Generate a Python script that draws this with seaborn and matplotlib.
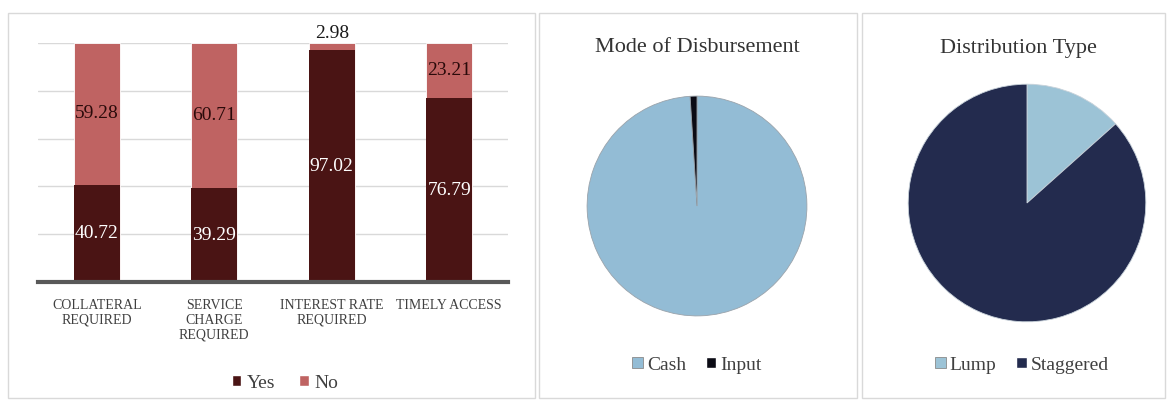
import matplotlib
matplotlib.use("Agg")
import matplotlib.pyplot as plt
import seaborn as sns
import pandas as pd
import numpy as np
from matplotlib.patches import Rectangle, Patch

# ---------------- data ----------------
categories = ["COLLATERAL\nREQUIRED", "SERVICE\nCHARGE\nREQUIRED",
              "INTEREST RATE\nREQUIRED", "TIMELY ACCESS"]
yes_vals = [40.72, 39.29, 97.02, 76.79]
no_vals = [59.28, 60.71, 2.98, 23.21]
yes_labels = ["40.72", "39.29", "97.02", "76.79"]
no_labels = ["59.28", "60.71", "2.98", "23.21"]

disb_labels = ["Cash", "Input"]
disb_vals = [99.0, 1.0]

dist_labels = ["Lump", "Staggered"]
dist_vals = [13.4, 86.6]

# ---------------- style ----------------
sns.set_theme(style="white")
plt.rcParams["font.family"] = ["Liberation Serif", "DejaVu Serif"]

W, H = 1168, 401
fig = plt.figure(figsize=(W / 100, H / 100), dpi=100)
fig.patch.set_facecolor("white")

def px_axes(left, top, right, bottom):
    return fig.add_axes([left / W, 1 - bottom / H, (right - left) / W, (bottom - top) / H])

# panel borders
for (l, t, r, b) in [(8, 13, 535, 398), (539, 13, 857, 398), (862, 13, 1165, 398)]:
    fig.add_artist(Rectangle((l / W, 1 - b / H), (r - l) / W, (b - t) / H,
                             transform=fig.transFigure, fill=False,
                             edgecolor="#d9d9d9", linewidth=1.0))

YES_C = "#4a1414"
NO_C = "#bf6362"
TXT = "#404040"

# ---------------- stacked bar ----------------
ax = px_axes(38, 43, 508, 282)
df = pd.DataFrame({"cat": categories, "yes": yes_vals, "no": no_vals})
df["total"] = df["yes"] + df["no"]
sns.barplot(data=df, x="cat", y="total", color=NO_C, width=0.39, ax=ax,
            saturation=1, edgecolor="white", linewidth=0.6)
sns.barplot(data=df, x="cat", y="yes", color=YES_C, width=0.39, ax=ax,
            saturation=1, edgecolor="none", linewidth=0)
ax.set_ylim(0, 100)
ax.set_xlim(-0.5, 3.5)
ax.set_yticks([20, 40, 60, 80, 100])
ax.yaxis.grid(True, color="#d9d9d9", linewidth=1.0)
ax.set_axisbelow(True)
ax.tick_params(axis="y", left=False, labelleft=False)
ax.tick_params(axis="x", bottom=False, pad=6)
for s in ["top", "right", "left"]:
    ax.spines[s].set_visible(False)
ax.spines["bottom"].set_color("#595959")
ax.spines["bottom"].set_linewidth(3)
ax.set_xlabel("")
ax.set_ylabel("")
ax.set_xticks(range(len(categories)))
ax.set_xticklabels(categories, fontsize=10, color=TXT, linespacing=1.2)

for i in range(len(categories)):
    y, n = yes_vals[i], no_vals[i]
    ax.text(i, y / 2, yes_labels[i], ha="center", va="center",
            color="white", fontsize=14)
    if n < 6:
        ax.text(i, y + n + 0.3, no_labels[i], ha="center", va="bottom",
                color="#1a1a1a", fontsize=14)
    else:
        ax.text(i, y + n / 2, no_labels[i], ha="center", va="center",
                color="#2a0a0a", fontsize=14)

bar_handles = [Patch(facecolor=YES_C, label="Yes"), Patch(facecolor=NO_C, label="No")]
fig.legend(handles=bar_handles, loc="center", bbox_to_anchor=(285 / W, 1 - 383 / H),
           ncol=2, frameon=False, fontsize=14, handlelength=0.5, handleheight=0.5,
           handletextpad=0.3, columnspacing=1.2, labelcolor=TXT)

# ---------------- pie 1 ----------------
def pie_axes(cx, cy, r):
    return px_axes(cx - r, cy - r, cx + r, cy + r)

CASH_C = "#93bcd5"
INPUT_C = "#0b0b14"
ax1 = pie_axes(697, 206, 111)
ax1.pie(disb_vals, colors=[CASH_C, INPUT_C], startangle=90, counterclock=False,
        radius=1, wedgeprops=dict(edgecolor="#9aa3ab", linewidth=0.6))
ax1.set_xlim(-1.01, 1.01)
ax1.set_ylim(-1.01, 1.01)
ax1.set_aspect("equal")
ax1.axis("off")
fig.text(697 / W, 1 - 48 / H, "Mode of Disbursement", ha="center", va="center",
         fontsize=16, color="#333333")
h1 = [Patch(facecolor=CASH_C, edgecolor="#8a8a8a", linewidth=0.6, label=disb_labels[0]),
      Patch(facecolor=INPUT_C, label=disb_labels[1])]
fig.legend(handles=h1, loc="center", bbox_to_anchor=(697 / W, 1 - 365 / H),
           ncol=2, frameon=False, fontsize=14, handlelength=0.55, handleheight=0.55,
           handletextpad=0.2, columnspacing=1.0, labelcolor=TXT)

# ---------------- pie 2 ----------------
LUMP_C = "#9cc3d6"
STAG_C = "#232b4e"
ax2 = pie_axes(1027, 203, 120)
ax2.pie(dist_vals, colors=[LUMP_C, STAG_C], startangle=90, counterclock=False,
        radius=1, wedgeprops=dict(edgecolor="#c8d2da", linewidth=0.6))
ax2.set_xlim(-1.01, 1.01)
ax2.set_ylim(-1.01, 1.01)
ax2.set_aspect("equal")
ax2.axis("off")
fig.text(1018 / W, 1 - 48 / H, "Distribution Type", ha="center", va="center",
         fontsize=16, color="#333333")
h2 = [Patch(facecolor=LUMP_C, edgecolor="#8a8a8a", linewidth=0.6, label=dist_labels[0]),
      Patch(facecolor=STAG_C, label=dist_labels[1])]
fig.legend(handles=h2, loc="center", bbox_to_anchor=(1022 / W, 1 - 365 / H),
           ncol=2, frameon=False, fontsize=14, handlelength=0.55, handleheight=0.55,
           handletextpad=0.2, columnspacing=1.0, labelcolor=TXT)

fig.savefig("out.png", dpi=100, facecolor="white")
